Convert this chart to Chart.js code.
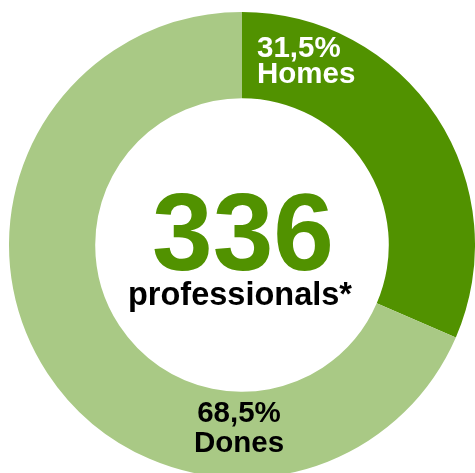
<!DOCTYPE html>
<html>
<head>
<meta charset="utf-8">
<script src="https://cdn.jsdelivr.net/npm/chart.js@4"></script>
<style>
  html, body { margin: 0; padding: 0; background: #fff; overflow: hidden; width: 475px; height: 473px; }
  #wrap { position: absolute; left: 9px; top: 12px; }
</style>
</head>
<body>
<div id="wrap"><canvas id="myChart" width="466" height="466"></canvas></div>
<script>
var labels = ['Homes', 'Dones'];
var values = [31.5, 68.5];
var colors = ['#519200', '#a9c985'];
var labelColors = ['#ffffff', '#000000'];
var totalText = '336';
var subText = 'professionals*';

var fontFam = '"Liberation Sans", Arial, Helvetica, sans-serif';

function pct(v) {
    return v.toFixed(1).replace('.', ',') + '%';
}

var textPlugin = {
    id: 'textPlugin',
    afterDraw: function(chart) {
        var ctx = chart.ctx;
        var arcs = chart.getDatasetMeta(0).data;
        var a0 = arcs[0];
        var cx = a0.x, cy = a0.y;
        var outer = a0.outerRadius, inner = a0.innerRadius;
        ctx.save();
        // center
        ctx.textAlign = 'center';
        ctx.textBaseline = 'alphabetic';
        ctx.fillStyle = colors[0];
        ctx.font = 'bold 109px ' + fontFam;
        ctx.fillText(totalText, cx + 1, cy + 25);
        ctx.fillStyle = '#000';
        ctx.font = 'bold 32.5px ' + fontFam;
        ctx.fillText(subText, cx - 2, cy + 60);
        // Homes label
        ctx.font = 'bold 29.5px ' + fontFam;
        ctx.textAlign = 'left';
        ctx.fillStyle = labelColors[0];
        ctx.fillText(pct(values[0]), cx + 15, cy - outer + 45);
        ctx.fillText(labels[0], cx + 15, cy - outer + 71);
        // Dones label
        ctx.textAlign = 'center';
        ctx.font = 'bold 29.5px ' + fontFam;
        ctx.fillStyle = labelColors[1];
        ctx.fillText(pct(values[1]), cx - 3, cy + inner + 30);
        ctx.fillText(labels[1], cx - 3, cy + inner + 60);
        ctx.restore();
    }
};

var ctx = document.getElementById('myChart');
var myChart = new Chart(ctx, {
    type: 'doughnut',
    data: {
        labels: labels,
        datasets: [{
            data: values,
            backgroundColor: colors,
            borderWidth: 0
        }]
    },
    options: {
        responsive: false,
        animation: false,
        cutout: '63%',
        plugins: {
            legend: { display: false },
            tooltip: { enabled: false }
        }
    },
    plugins: [textPlugin]
});
</script>
</body>
</html>
